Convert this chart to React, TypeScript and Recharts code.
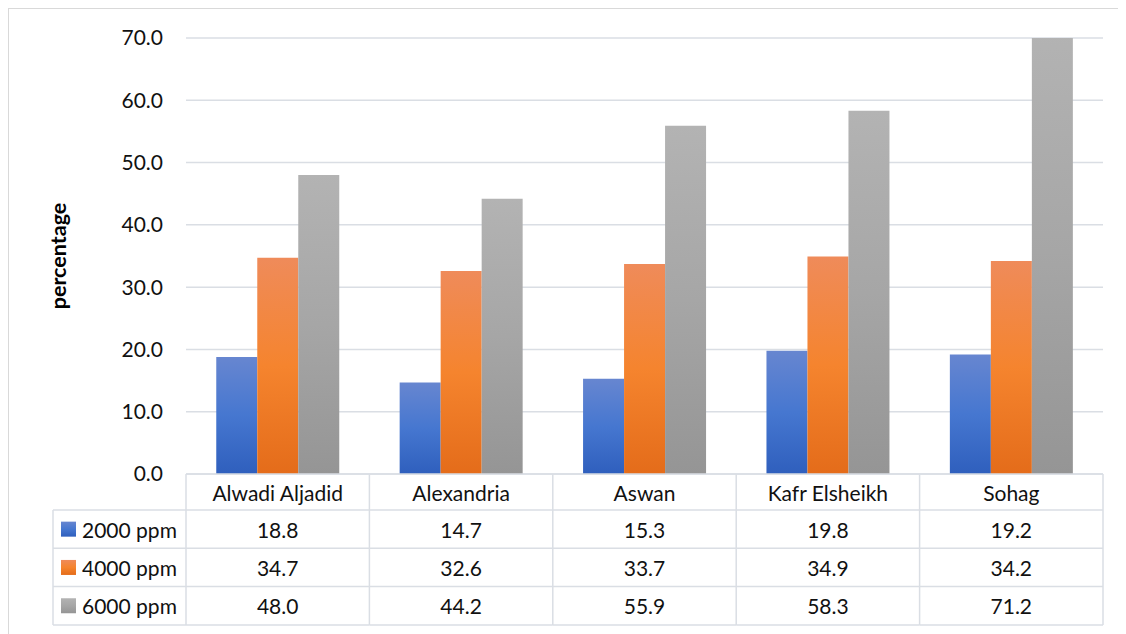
import React from "react"
import { BarChart, Bar, XAxis, YAxis, CartesianGrid } from "recharts"

const categories = ["Alwadi Aljadid", "Alexandria", "Aswan", "Kafr Elsheikh", "Sohag"]
const seriesNames = ["2000 ppm", "4000 ppm", "6000 ppm"]
const ppm2000 = [18.8, 14.7, 15.3, 19.8, 19.2]
const ppm4000 = [34.7, 32.6, 33.7, 34.9, 34.2]
const ppm6000 = [48.0, 44.2, 55.9, 58.3, 71.2]
const yTicks = [0, 10, 20, 30, 40, 50, 60, 70]

const seriesValues = [ppm2000, ppm4000, ppm6000]
const seriesKeys = ["s2000", "s4000", "s6000"]
const gradIds = ["gBlue", "gOrange", "gGray"]

const data = categories.map((name, i) => ({
  name,
  s2000: ppm2000[i],
  s4000: ppm4000[i],
  s6000: ppm6000[i],
}))

const FONT = "Lato, 'Open Sans', sans-serif"
const LINE = "#dadee4"
const HEADER_H = 36
const ROW_H = 38.3
const LEGEND_W = 133

function TableTick(props: any) {
  const { x, y, index, payload, width } = props
  const colW = (width || 917) / categories.length
  const left = x - colW / 2
  const right = x + colW / 2
  const bottom = y + HEADER_H + ROW_H * seriesNames.length
  const tx = { fontFamily: FONT, fontSize: 21, fill: "#111" }

  return (
    <g>
      <text x={x} y={y + HEADER_H / 2} textAnchor="middle" dominantBaseline="central" {...tx}>
        {payload.value}
      </text>
      {seriesValues.map((vals, r) => (
        <text
          key={r}
          x={x}
          y={y + HEADER_H + ROW_H * r + ROW_H / 2}
          textAnchor="middle"
          dominantBaseline="central"
          {...tx}
        >
          {vals[index].toFixed(1)}
        </text>
      ))}
      {seriesNames.map((_, r) => (
        <line
          key={r}
          x1={left}
          x2={right}
          y1={y + HEADER_H + ROW_H * r}
          y2={y + HEADER_H + ROW_H * r}
          stroke={LINE}
          strokeWidth={1.5}
        />
      ))}
      <line x1={left} x2={right} y1={bottom} y2={bottom} stroke={LINE} strokeWidth={1.5} />
      <line x1={right} x2={right} y1={y} y2={bottom} stroke={LINE} strokeWidth={1.5} />
      {index === 0 && (
        <g>
          <line x1={left} x2={left} y1={y} y2={bottom} stroke={LINE} strokeWidth={1.5} />
          <line
            x1={left - LEGEND_W}
            x2={left - LEGEND_W}
            y1={y + HEADER_H}
            y2={bottom}
            stroke={LINE}
            strokeWidth={1.5}
          />
          {seriesNames.map((s, r) => {
            const rowTop = y + HEADER_H + ROW_H * r
            return (
              <g key={s}>
                <line
                  x1={left - LEGEND_W}
                  x2={left}
                  y1={rowTop}
                  y2={rowTop}
                  stroke={LINE}
                  strokeWidth={1.5}
                />
                <rect
                  x={left - LEGEND_W + 8}
                  y={rowTop + ROW_H / 2 - 7.5}
                  width={15}
                  height={15}
                  fill={`url(#${gradIds[r]})`}
                />
                <text
                  x={left - LEGEND_W + 29}
                  y={rowTop + ROW_H / 2}
                  dominantBaseline="central"
                  {...tx}
                >
                  {s}
                </text>
              </g>
            )
          })}
          <line
            x1={left - LEGEND_W}
            x2={left}
            y1={bottom}
            y2={bottom}
            stroke={LINE}
            strokeWidth={1.5}
          />
        </g>
      )}
    </g>
  )
}

export default function App() {
  return (
    <div
      style={{
        width: 1124,
        height: 626,
        borderTop: "1px solid #d9d9d9",
        borderLeft: "1px solid #d9d9d9",
        background: "#fff",
      }}
    >
      <style>{"html, body { overflow: hidden; }"}</style>
      <BarChart
        width={1124}
        height={626}
        data={data}
        margin={{ top: 29, right: 30, bottom: 10, left: 0 }}
        barCategoryGap="16.5%"
        barGap={0}
      >
        <defs>
          <linearGradient id="gBlue" x1="0" y1="0" x2="0" y2="1">
            <stop offset="0%" stopColor="#6786d0" />
            <stop offset="50%" stopColor="#4677d0" />
            <stop offset="100%" stopColor="#2f5fbd" />
          </linearGradient>
          <linearGradient id="gOrange" x1="0" y1="0" x2="0" y2="1">
            <stop offset="0%" stopColor="#ef8b5a" />
            <stop offset="50%" stopColor="#f5842e" />
            <stop offset="100%" stopColor="#e46c1a" />
          </linearGradient>
          <linearGradient id="gGray" x1="0" y1="0" x2="0" y2="1">
            <stop offset="0%" stopColor="#b3b3b3" />
            <stop offset="50%" stopColor="#a6a6a6" />
            <stop offset="100%" stopColor="#959595" />
          </linearGradient>
        </defs>
        <CartesianGrid vertical={false} stroke={LINE} strokeWidth={1.5} />
        <XAxis
          dataKey="name"
          height={151}
          tickLine={false}
          tickSize={0}
          tickMargin={0}
          axisLine={{ stroke: LINE, strokeWidth: 1.5 }}
          tick={<TableTick />}
          interval={0}
        />
        <YAxis
          width={177}
          domain={[0, 70]}
          ticks={yTicks}
          allowDataOverflow
          axisLine={false}
          tickLine={false}
          tickMargin={17}
          tickFormatter={(v: number) => v.toFixed(1)}
          tick={{ fontFamily: FONT, fontSize: 21, fill: "#111" }}
          label={{
            value: "percentage",
            angle: -90,
            position: "insideLeft",
            offset: 49,
            textAnchor: "middle",
            style: { fontFamily: FONT, fontSize: 21.5, fontWeight: 700, fill: "#000" },
          }}
        />
        {seriesKeys.map((k, i) => (
          <Bar key={k} dataKey={k} name={seriesNames[i]} fill={`url(#${gradIds[i]})`} isAnimationActive={false} />
        ))}
      </BarChart>
    </div>
  )
}
